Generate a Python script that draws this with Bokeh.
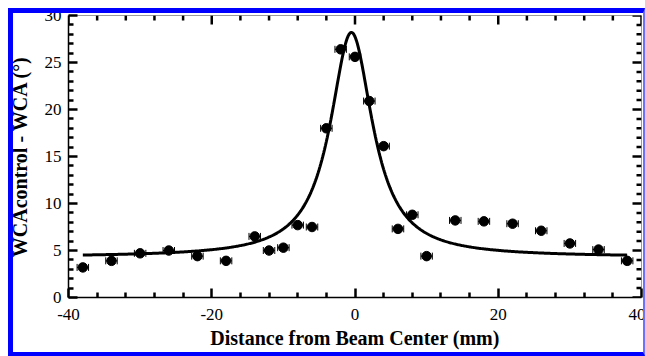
from bokeh.plotting import figure
from bokeh.models import (ColumnDataSource, Whisker, TeeHead, FixedTicker, Range1d,
                          InlineStyleSheet)
from bokeh.embed import file_html
from bokeh.resources import INLINE
import numpy as np

# Measured contact-angle change vs. distance from the beam center
distance_mm = [-38, -34, -30, -26, -22, -18, -14, -12, -10, -8, -6, -4, -2, 0,
               2, 4, 6, 8, 10, 14, 18, 22, 26, 30, 34, 38]
delta_wca = [3.2, 3.9, 4.7, 5.0, 4.4, 3.9, 6.5, 5.0, 5.3, 7.7, 7.5, 18.0, 26.4, 25.6,
             20.9, 16.1, 7.3, 8.8, 4.4, 8.2, 8.1, 7.85, 7.1, 5.75, 5.1, 3.9]
x_error = 0.8

# Lorentzian fit parameters
fit_center = -0.5
fit_hwhm = 3.6
fit_offset = 4.3
fit_amplitude = 23.9
fit_span = (-38, 38)

x_ticks = [-40, -20, 0, 20, 40]
x_minor = [v for v in range(-40, 41, 4) if v % 20 != 0]
y_ticks = [0, 5, 10, 15, 20, 25, 30]
y_minor = [v for v in range(0, 31) if v % 5 != 0]

X_MIN, X_MAX = -40, 40
Y_MIN, Y_MAX = 0, 30

SERIF = "Liberation Serif"
MAJOR_LEN, MINOR_LEN, TICK_W = 9, 5, 2.5

pts = ColumnDataSource(dict(
    x=distance_mm, y=delta_wca,
    lo=[v - x_error for v in distance_mm], hi=[v + x_error for v in distance_mm]))

fx = np.linspace(fit_span[0], fit_span[1], 600)
fy = fit_offset + fit_amplitude * fit_hwhm**2 / ((fx - fit_center)**2 + fit_hwhm**2)

# blue surround of the page
frame_css = InlineStyleSheet(css="""
:host::after {
  content: "";
  position: absolute;
  left: 8px; top: 8px; width: 637px; height: 348px;
  box-sizing: border-box;
  border-left: 5px solid #0000ff;
  border-top: 5px solid #0000ff;
  border-bottom: 4px solid #0000ff;
  border-right: 2px solid #7070ff;
  pointer-events: none;
  z-index: 10;
}
""")

p = figure(width=645, height=356, output_backend="svg", toolbar_location=None,
           x_range=Range1d(X_MIN, X_MAX), y_range=Range1d(Y_MIN, Y_MAX),
           min_border_left=68, min_border_right=4, min_border_top=15, min_border_bottom=59,
           background_fill_color="white", border_fill_color="white",
           stylesheets=[frame_css])
p.outline_line_color = "#9a9a9a"
p.outline_line_width = 1
p.grid.visible = False

# fit curve
p.line(fx, fy, line_color="black", line_width=3)

# horizontal error bars
p.add_layout(Whisker(source=pts, base="y", lower="lo", upper="hi", dimension="width",
                     line_color="black", line_width=1,
                     lower_head=TeeHead(size=7, line_color="black", line_width=1),
                     upper_head=TeeHead(size=7, line_color="black", line_width=1)))

p.scatter("x", "y", source=pts, size=9.5, fill_color="black", line_color="black")

# inward ticks on the top and right edges
for ticks, length in ((x_ticks, MAJOR_LEN), (x_minor, MINOR_LEN)):
    p.ray(x=ticks, y=[Y_MAX] * len(ticks), length=length, length_units="screen",
          angle=-np.pi / 2, line_color="black", line_width=TICK_W)
for ticks, length in ((y_ticks, MAJOR_LEN), (y_minor, MINOR_LEN)):
    p.ray(x=[X_MAX] * len(ticks), y=ticks, length=length, length_units="screen",
          angle=np.pi, line_color="black", line_width=TICK_W)


def style_axis(ax, ticks, minor):
    ax.ticker = FixedTicker(ticks=ticks, minor_ticks=minor)
    ax.axis_line_color = "black"
    ax.axis_line_width = 1.5
    ax.major_tick_in = MAJOR_LEN
    ax.major_tick_out = 0
    ax.minor_tick_in = MINOR_LEN
    ax.minor_tick_out = 0
    ax.major_tick_line_width = TICK_W
    ax.minor_tick_line_width = TICK_W
    ax.major_tick_line_color = "black"
    ax.minor_tick_line_color = "black"
    ax.major_label_text_font = SERIF
    ax.major_label_text_font_size = "17px"
    ax.major_label_text_color = "black"
    ax.axis_label_text_font = SERIF
    ax.axis_label_text_font_size = "20px"
    ax.axis_label_text_font_style = "bold"
    ax.axis_label_text_color = "black"


xa = p.xaxis[0]
ya = p.yaxis[0]
style_axis(xa, x_ticks, x_minor)
style_axis(ya, y_ticks, y_minor)
xa.major_label_overrides = {t: str(t) for t in x_ticks}
xa.axis_label = "Distance from Beam Center (mm)"
ya.axis_label = "WCAcontrol - WCA (°)"
xa.major_label_standoff = 11
xa.axis_label_standoff = 4
ya.major_label_standoff = 7
ya.axis_label_standoff = 11

open("out.html", "w").write(file_html(p, INLINE))
